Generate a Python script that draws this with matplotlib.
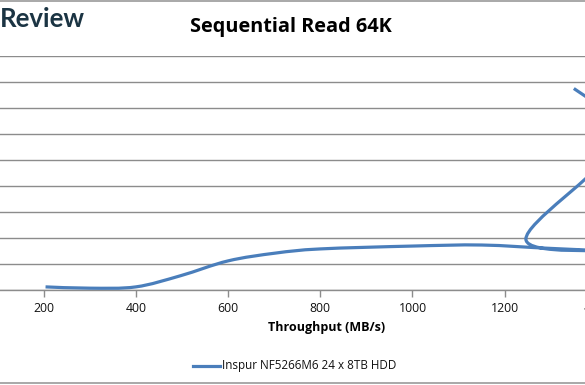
import matplotlib
matplotlib.use("Agg")
import matplotlib.pyplot as plt
import numpy as np
from matplotlib.path import Path
from matplotlib.patches import PathPatch
from matplotlib.lines import Line2D

title = "Sequential Read 64K"
xlabel = "Throughput (MB/s)"
series_name = "Inspur NF5266M6 24 x 8TB HDD"
throughput = [204, 300, 400, 497, 600, 703, 800, 1000, 1150, 1300, 1440, 1246, 1430, 1400, 1350]
latency = [0.12, 0.07, 0.12, 0.55, 1.12, 1.42, 1.58, 1.69, 1.73, 1.60, 1.52, 1.95, 5.3, 7.0, 7.75]
xticks = [200, 400, 600, 800, 1000, 1200, 1400]
yticks = list(range(0, 10))

BLUE = "#4a7ebb"
GRID = "#8c8c8c"
XMIN, XMAX = 105.2, 1374.2

fig = plt.figure(figsize=(5.85, 3.85), dpi=100)
W, H = 585, 385
ax = fig.add_axes([0, 1 - 290 / H, 1, (290 - 56) / H])

# smoothed line (Excel-style Bezier through the data points)
P = np.column_stack([throughput, latency]).astype(float)
n = len(P)
verts = [tuple(P[0])]
codes = [Path.MOVETO]
for i in range(n - 1):
    p0 = P[i - 1] if i > 0 else P[i]
    p1 = P[i]
    p2 = P[i + 1]
    p3 = P[i + 2] if i + 2 < n else P[i + 1]
    c1 = p1 + (p2 - p0) / 6.0
    c2 = p2 - (p3 - p1) / 6.0
    verts += [tuple(c1), tuple(c2), tuple(p2)]
    codes += [Path.CURVE4] * 3
patch = PathPatch(Path(verts, codes), facecolor="none", edgecolor=BLUE,
                  lw=2.3, capstyle="butt", zorder=3)
ax.add_patch(patch)

for s in ["top", "right", "left"]:
    ax.spines[s].set_visible(False)
ax.spines["bottom"].set_color(GRID)
ax.spines["bottom"].set_linewidth(1.0)
ax.set_yticks(yticks)
ax.set_yticklabels([])
ax.tick_params(axis="y", length=0)
ax.grid(axis="y", color=GRID, lw=1.0)
ax.set_axisbelow(True)
vis = [t for t in xticks if XMIN <= t <= XMAX]
ax.set_xticks(vis)
ax.tick_params(axis="x", length=5, color=GRID, width=1.0, labelsize=8.8,
               pad=4, labelcolor="#111111")
for lab in ax.get_xticklabels():
    lab.set_family("Open Sans")
ax.set_xlim(XMIN, XMAX)
ax.set_ylim(0, 9)
for t in xticks:
    if t > XMAX:
        ax.text(t, -0.6, str(t), ha="center", va="top", fontsize=8.8,
                family="Open Sans", color="#111111", clip_on=False)

fig.text(291 / W, 1 - 27 / H, title, ha="center", va="center",
         fontsize=14.3, fontweight="bold", family="Open Sans")
fig.text(327 / W, 1 - 328 / H, xlabel, ha="center", va="center",
         fontsize=9, fontweight="bold", family="Open Sans")
fig.text(0.0, 1 - 19 / H, "Review", ha="left", va="center",
         fontsize=18.5, fontweight="bold", family="Lato", color="#1b3443")

fig.add_artist(Line2D([193 / W, 220 / W], [1 - 366 / H] * 2, color=BLUE, lw=2.3,
                      transform=fig.transFigure))
fig.text(222 / W, 1 - 366 / H, series_name, ha="left", va="center",
         fontsize=8.4, family="Open Sans", color="#111111")

for yy in [1 - 1 / H, 1 - 383 / H]:
    fig.add_artist(Line2D([0, 1], [yy, yy], color="#999999", lw=1.2,
                          transform=fig.transFigure))

fig.savefig("out.png", dpi=100)
